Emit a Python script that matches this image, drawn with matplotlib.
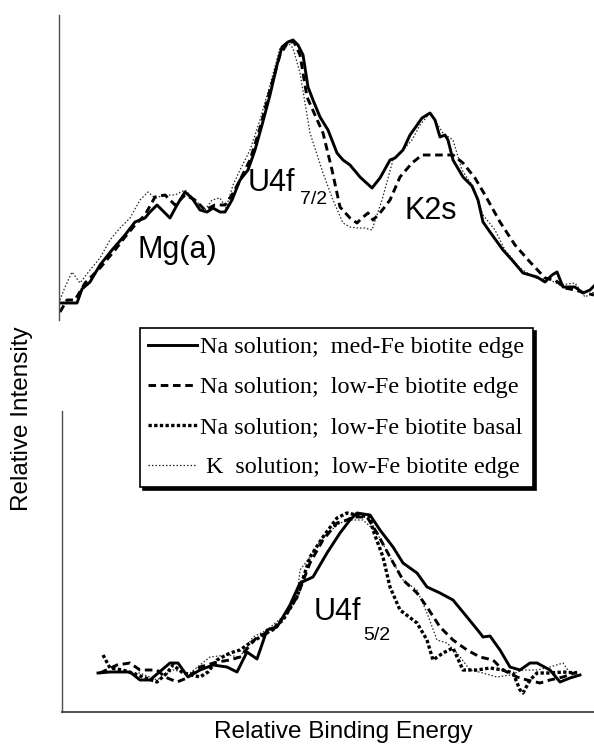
import matplotlib
matplotlib.use("Agg")
import matplotlib.pyplot as plt

# XPS spectra, U4f region. x = relative binding energy (arb. units),
# y = relative intensity (arb. units)

# top panel: U4f7/2 + Mg(a) + K2s
top_solid_x = [1, 7, 18, 23, 31, 41, 53, 66, 76, 86, 91, 98, 103, 111, 118, 126, 133, 141, 148, 154, 161, 166,
               173, 181, 189, 196, 203, 211, 218, 223, 229, 234, 239, 244, 249, 254, 261, 269, 278, 284, 291, 301,
               313, 321, 331, 336, 344, 351, 356, 363, 371, 376, 381, 386, 389, 394, 404, 413, 419, 424, 431, 444,
               453, 464, 471, 478, 486, 493, 498, 504, 511, 516, 524, 531, 535]
top_solid_y = [17, 17, 17, 31, 38, 55, 70, 85, 98, 102, 108, 115, 110, 102, 115, 128, 122, 110, 108, 112, 108, 108,
               120, 140, 150, 170, 195, 225, 255, 273, 278, 280, 275, 265, 233, 220, 203, 190, 167, 160, 155, 143,
               132, 142, 160, 162, 170, 185, 192, 202, 207, 200, 183, 185, 180, 160, 143, 134, 120, 98, 88, 70,
               60, 47, 45, 43, 38, 45, 48, 33, 33, 33, 27, 30, 34]

top_dash_x = [1, 8, 16, 26, 41, 56, 66, 76, 86, 96, 106, 116, 126, 136, 146, 156, 166, 173, 181, 191, 201, 211,
              221, 229, 235, 241, 248, 256, 264, 273, 281, 291, 298, 303, 309, 314, 321, 331, 341, 353, 363, 374,
              384, 394, 404, 416, 426, 441, 456, 471, 486, 496, 506, 516, 526, 535]
top_dash_y = [8, 20, 20, 37, 52, 70, 83, 95, 105, 123, 125, 115, 125, 120, 110, 115, 115, 125, 140, 160, 192, 230,
              265, 278, 278, 265, 223, 205, 187, 150, 113, 102, 97, 102, 107, 100, 107, 120, 143, 157, 165, 165,
              165, 165, 157, 142, 125, 98, 75, 58, 42, 40, 32, 30, 27, 25]

top_dot_x = [1, 6, 13, 21, 31, 41, 51, 61, 71, 81, 89, 96, 106, 116, 126, 136, 146, 153, 161, 167, 174, 181,
             191, 201, 211, 221, 228, 234, 241, 251, 264, 274, 284, 291, 298, 306, 313, 323, 334, 344, 353, 361,
             371, 384, 394, 403, 413, 424, 436, 446, 461, 476, 491, 501, 516, 526, 535]
top_dot_y = [20, 33, 48, 37, 50, 62, 80, 92, 102, 120, 128, 122, 125, 125, 130, 120, 110, 120, 122, 112, 135, 150,
             170, 200, 235, 272, 278, 272, 247, 187, 147, 120, 97, 93, 92, 92, 90, 120, 160, 170, 180, 195,
             207, 187, 180, 150, 135, 105, 90, 70, 52, 42, 40, 35, 37, 23, 28]

# bottom panel: U4f5/2
bot_solid_x = [36, 48, 68, 78, 88, 108, 116, 126, 138, 151, 165, 175, 185, 195, 205, 215, 228, 238, 251, 265,
               278, 288, 295, 308, 318, 331, 341, 355, 365, 378, 391, 405, 418, 421, 428, 438, 448, 458, 468, 475,
               488, 498, 508, 518]
bot_solid_y = [39, 40, 40, 32, 32, 49, 49, 35, 42, 47, 45, 40, 60, 53, 82, 85, 107, 129, 135, 159, 179, 192,
               199, 197, 182, 165, 149, 139, 125, 119, 112, 95, 79, 75, 76, 62, 45, 42, 49, 49, 42, 30, 34, 37]

bot_dash_x = [38, 55, 68, 78, 95, 103, 115, 125, 138, 155, 168, 178, 195, 211, 225, 235, 248, 261, 275, 285,
              291, 305, 315, 328, 341, 355, 365, 378, 391, 405, 418, 431, 441, 455, 465, 478, 488, 501, 515]
bot_dash_y = [39, 47, 49, 42, 42, 35, 30, 34, 45, 50, 52, 55, 75, 82, 99, 115, 149, 172, 189, 192,
              195, 195, 179, 155, 132, 119, 105, 85, 72, 62, 55, 52, 42, 35, 32, 29, 32, 35, 40]

bot_basal_x = [41, 48, 61, 81, 95, 105, 111, 121, 138, 146, 155, 168, 178, 188, 205, 221, 235, 248, 261, 275,
               285, 295, 308, 311, 321, 328, 338, 355, 365, 371, 381, 391, 401, 415, 428, 441, 451, 458, 461, 468,
               475, 488, 501, 515]
bot_basal_y = [57, 44, 42, 35, 30, 39, 47, 39, 35, 40, 52, 59, 62, 69, 79, 92, 115, 155, 175, 194,
               199, 197, 195, 182, 155, 125, 102, 89, 72, 52, 59, 64, 42, 42, 44, 42, 39, 22, 19, 32,
               39, 39, 40, 39]

bot_k_x = [38, 58, 78, 95, 111, 128, 148, 165, 178, 191, 205, 225, 235, 238, 248, 261, 278, 288, 301, 315,
           328, 341, 355, 365, 375, 385, 395, 408, 421, 435, 448, 461, 475, 488, 501, 508, 515]
bot_k_y = [40, 40, 39, 32, 42, 39, 55, 57, 55, 75, 82, 99, 115, 142, 155, 175, 189, 192, 192, 179,
           155, 132, 122, 99, 72, 69, 59, 42, 39, 35, 37, 42, 42, 45, 49, 39, 40]

legend_labels = ["Na solution;  med-Fe biotite edge",
                 "Na solution;  low-Fe biotite edge",
                 "Na solution;  low-Fe biotite basal",
                 " K  solution;  low-Fe biotite edge"]

plt.rcParams['font.family'] = ['Liberation Sans', 'DejaVu Sans']

fig = plt.figure(figsize=(5.94, 7.47), dpi=100)
W, H = 594.0, 747.0

# top axes (only a left spine)
ax1 = fig.add_axes([59 / W, 1 - 320 / H, 535 / W, 305 / H])
# bottom axes (left + bottom spines)
ax2 = fig.add_axes([62 / W, 1 - 712 / H, 532 / W, 301 / H])

solid = dict(color='k', lw=2.1, ls='-')
dash = dict(color='k', lw=2.1, ls=(0, (2.6, 1.6)))
basal = dict(color='k', lw=2.4, ls=(0, (1.0, 0.7)))
kdot = dict(color='0.15', lw=0.9, ls=(0, (1.2, 1.6)))

ax1.plot(top_dot_x, top_dot_y, **kdot)
ax1.plot(top_dash_x, top_dash_y, **dash)
ax1.plot(top_solid_x, top_solid_y, **solid)

l4, = ax2.plot(bot_k_x, bot_k_y, **kdot)
l3, = ax2.plot(bot_basal_x, bot_basal_y, **basal)
l2, = ax2.plot(bot_dash_x, bot_dash_y, **dash)
l1, = ax2.plot(bot_solid_x, bot_solid_y, **solid)

ax1.set_xlim(0, 535)
ax1.set_ylim(0, 305)
ax2.set_xlim(0, 532)
ax2.set_ylim(0, 301)

for ax in (ax1, ax2):
    ax.set_xticks([])
    ax.set_yticks([])
    ax.patch.set_alpha(0)
    for s in ('top', 'right'):
        ax.spines[s].set_visible(False)
    ax.spines['left'].set_color('0.3')
    ax.spines['left'].set_linewidth(1.0)
ax1.spines['bottom'].set_visible(False)
ax2.spines['bottom'].set_color('0.2')
ax2.spines['bottom'].set_linewidth(1.2)

# peak labels
ax1.text(118, 70, "Mg(a)", fontsize=22, ha='center', va='center')
ax1.text(212, 137, "U4f", fontsize=22, ha='center', va='center')
ax1.text(255, 121, "7/2", fontsize=14, ha='center', va='center')
ax1.text(372, 109, "K2s", fontsize=22, ha='center', va='center')
ax2.text(275, 100, "U4f", fontsize=22, ha='center', va='center')
ax2.text(315, 77, "5/2", fontsize=14, ha='center', va='center')

fig.text(22 / W, 1 - 419 / H, "Relative Intensity", fontsize=17.5,
         rotation=90, ha='center', va='center')
fig.text(343 / W, 1 - 732 / H, "Relative Binding Energy", fontsize=17.5,
         ha='center', va='center')

leg = fig.legend([l1, l2, l3, l4], legend_labels, loc='upper left',
                 bbox_to_anchor=(140 / W, 1 - 328 / H), borderaxespad=0,
                 prop={'family': 'Liberation Serif', 'size': 17.4},
                 handlelength=2.0, handletextpad=0.15, labelspacing=0.75,
                 borderpad=0.35, fancybox=False, framealpha=1,
                 edgecolor='k', shadow={'color': 'k', 'alpha': 1})
leg.get_frame().set_linewidth(1.2)

fig.savefig("out.png", dpi=100)
